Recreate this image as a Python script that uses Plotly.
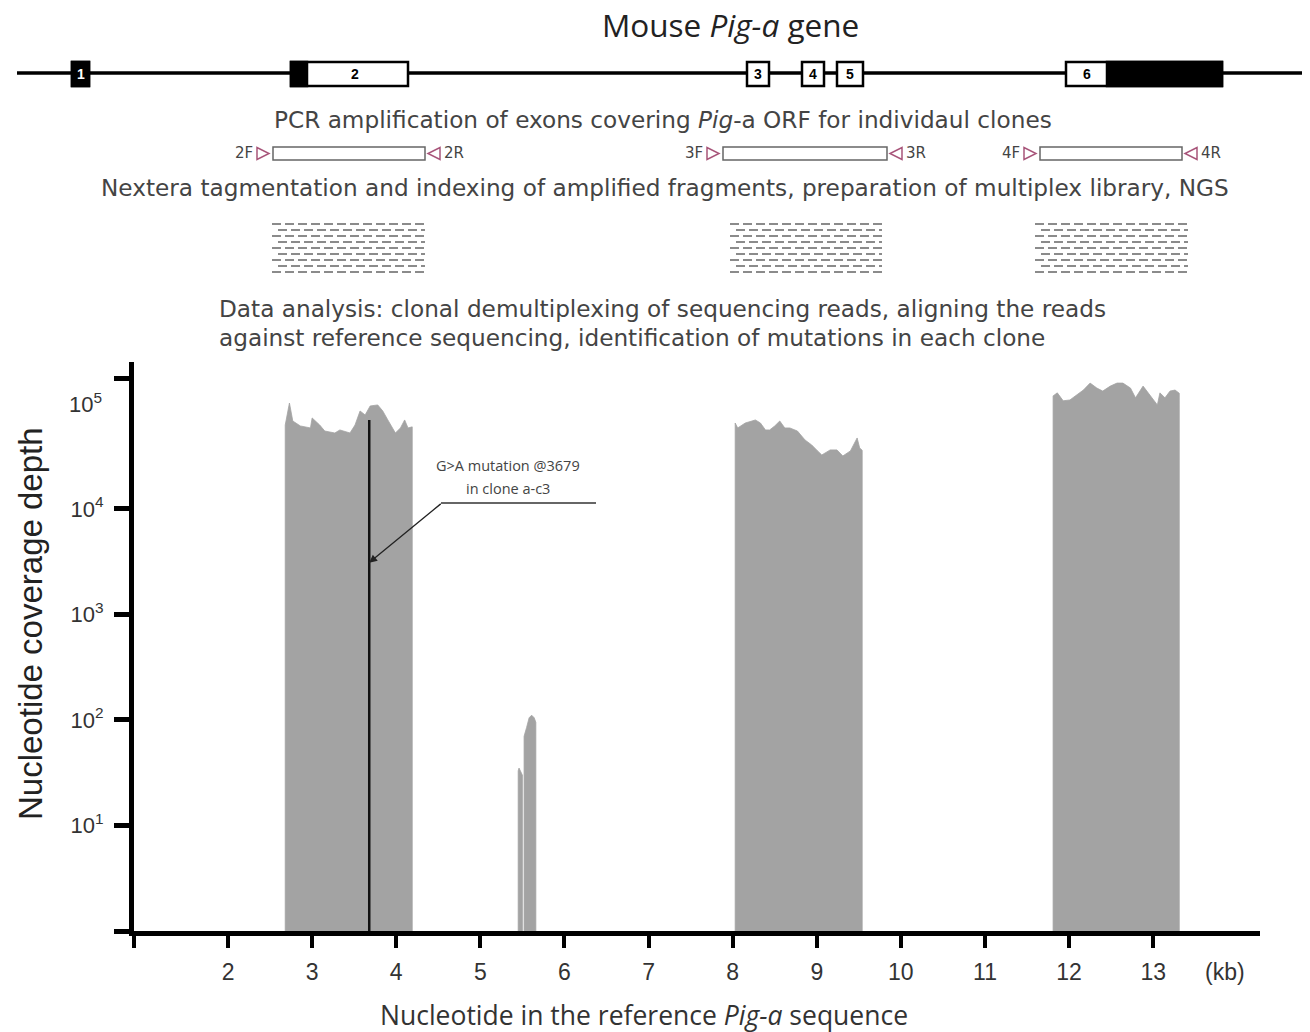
import math
import plotly.graph_objects as go

# ---------------- data ----------------
block1_kb = [2.68, 2.73, 2.77, 2.86, 2.98, 3.00, 3.09, 3.15, 3.27, 3.33, 3.45, 3.51,
             3.57, 3.63, 3.69, 3.78, 3.84, 3.90, 3.99, 4.05, 4.10, 4.14, 4.19]
block1_depth = [62500, 101000, 68200, 61200, 58600, 72900, 62500, 54800, 52500, 56100, 52500, 62500,
                84900, 77800, 94700, 96800, 84900, 69800, 52500, 58600, 69800, 58600, 60000]

peakA_kb = [5.45, 5.46, 5.50]
peakA_depth = [33, 35, 30]
peakB_kb = [5.52, 5.55, 5.58, 5.61, 5.64, 5.66]
peakB_depth = [70, 85, 105, 111, 105, 95]

block2_kb = [8.03, 8.06, 8.15, 8.23, 8.27, 8.33, 8.39, 8.44, 8.50, 8.56, 8.62, 8.68,
             8.77, 8.86, 8.94, 9.01, 9.06, 9.16, 9.24, 9.31, 9.40, 9.48, 9.51, 9.54]
block2_depth = [65300, 58600, 65300, 68200, 69800, 65300, 56100, 56100, 61200, 68200, 58600, 58600,
                54800, 45100, 40400, 35500, 32500, 36300, 36300, 31800, 35500, 47100, 37900, 36000]

block3_kb = [11.81, 11.86, 11.93, 12.01, 12.09, 12.17, 12.25, 12.33, 12.40, 12.49, 12.57,
             12.64, 12.73, 12.79, 12.88, 12.96, 13.05, 13.08, 13.14, 13.20, 13.26, 13.31]
block3_depth = [118000, 126000, 106000, 108000, 120000, 134000, 156000, 140000, 131000, 146000, 156000,
                156000, 140000, 113000, 146000, 120000, 96800, 126000, 113000, 131000, 134000, 125000]

mutation_kb = 3.679
mutation_depth = 69800
arrow_depth = 3100

x_tick_values = [2, 3, 4, 5, 6, 7, 8, 9, 10, 11, 12, 13]
y_tick_values = [10, 100, 1000, 10000]
y_tick_labels = ["10<sup>1</sup>", "10<sup>2</sup>", "10<sup>3</sup>", "10<sup>4</sup>"]

exon_labels = ["1", "2", "3", "4", "5", "6"]
amplicon_names = [("2F", "2R"), ("3F", "3R"), ("4F", "4R")]

# ---------------- layout geometry ----------------
W, H = 1310, 1032
L, R, T, B = 134, 50, 362, 101
PW, PH = W - L - R, H - T - B
X_RANGE = [0.882, 14.27]
Y_RANGE = [0, 5.393]
Y_TOP_TICK = 10 ** 5.24


def px(x):
    return (x - L) / PW


def py(y):
    return (H - B - y) / PH


GREY = "#a3a3a3"

fig = go.Figure()

for kb, d in [(block1_kb, block1_depth), (peakA_kb, peakA_depth), (peakB_kb, peakB_depth),
              (block2_kb, block2_depth), (block3_kb, block3_depth)]:
    fig.add_trace(go.Scatter(
        x=[kb[0]] + kb + [kb[-1]], y=[1] + d + [1],
        mode="lines", fill="toself", fillcolor=GREY,
        line=dict(color=GREY, width=0.8), hoverinfo="skip", showlegend=False))

fig.add_trace(go.Scatter(x=[mutation_kb, mutation_kb], y=[1, mutation_depth], mode="lines",
                         line=dict(color="#111111", width=2.5), showlegend=False, hoverinfo="skip"))

shapes = []
ann = []


def text_at(xp, yp, text, size, family, color="#444", xanchor="center", angle=0):
    ann.append(dict(x=px(xp), y=py(yp), xref="paper", yref="paper", showarrow=False,
                    xanchor=xanchor, yanchor="middle", text=text, textangle=angle,
                    font=dict(family=family, size=size, color=color)))


# arrow annotation for mutation
ann.append(dict(x=mutation_kb, y=math.log10(arrow_depth), xref="x", yref="y", ax=73, ay=-60,
                showarrow=True, arrowhead=2, arrowsize=1.2, arrowwidth=1.3, arrowcolor="#222", text=""))
shapes.append(dict(type="line", xref="paper", yref="paper", x0=px(441), x1=px(596), y0=py(503), y1=py(503),
                   line=dict(color="#333", width=1.3)))
text_at(508, 465, "G&gt;A mutation @3679", 14.5, "Open Sans", "#444")
text_at(508, 488, "in clone a-c3", 14.5, "Open Sans", "#444")

# 10^5 label (no tick in the reference)
ann.append(dict(x=px(104), y=5, xref="paper", yref="y", xanchor="right", yanchor="middle", showarrow=False,
                text="10<sup>5</sup>", font=dict(family="Liberation Sans", size=22, color="#333")))
text_at(1225, 972, "(kb)", 23, "Liberation Sans", "#333")
# axis titles
text_at(30, 624, "Nucleotide coverage depth", 33, "Liberation Sans", "#222", angle=-90)
text_at(644, 1015, "Nucleotide in the reference <i>Pig-a</i> sequence", 26.5, "Open Sans", "#333")

# ---------------- schematic ----------------
text_at(730, 25, "Mouse <i>Pig-a</i> gene", 31.5, "Open Sans", "#222")
GENE_Y = 73
shapes.append(dict(type="line", xref="paper", yref="paper", x0=px(17), x1=px(1302), y0=py(GENE_Y), y1=py(GENE_Y),
                   line=dict(color="black", width=3.5)))
exon_boxes = [(72, 89), (291, 408), (747, 769), (802, 824), (837, 863), (1066, 1222)]
black_parts = [(72, 89), (291, 307), None, None, None, (1107, 1222)]
label_x = [80.5, 355, 758, 813, 850, 1087]
for (x0, x1), bp, lab, lx in zip(exon_boxes, black_parts, exon_labels, label_x):
    shapes.append(dict(type="rect", xref="paper", yref="paper", x0=px(x0), x1=px(x1), y0=py(62), y1=py(86),
                       fillcolor="white", line=dict(color="black", width=2.5)))
    if bp:
        shapes.append(dict(type="rect", xref="paper", yref="paper", x0=px(bp[0]), x1=px(bp[1]), y0=py(62), y1=py(86),
                           fillcolor="black", line=dict(color="black", width=2.5)))
    text_at(lx, 74, "<b>%s</b>" % lab, 14, "Liberation Sans", "white" if lab == "1" else "black")

BODY = 23.2
text_at(663, 120, "PCR amplification of exons covering <i>Pig</i>-a ORF for individaul clones", BODY, "DejaVu Sans")
text_at(665, 187, "Nextera tagmentation and indexing of amplified fragments, preparation of multiplex library, NGS",
        BODY, "DejaVu Sans")
text_at(217, 309, "Data analysis: clonal demultiplexing of sequencing reads, aligning the reads", BODY,
        "DejaVu Sans", xanchor="left")
text_at(217, 337, "against reference sequencing, identification of mutations in each clone", BODY,
        "DejaVu Sans", xanchor="left")

# amplicons
AMP_Y = 153.5
amp_boxes = [(273, 425), (723, 887), (1040, 1182)]
for (f, r), (b0, b1) in zip(amplicon_names, amp_boxes):
    shapes.append(dict(type="rect", xref="paper", yref="paper", x0=px(b0), x1=px(b1), y0=py(147), y1=py(160),
                       fillcolor="white", line=dict(color="#666", width=1.5)))
    tri_r = "M %f,%f L %f,%f L %f,%f Z" % (px(b0 - 16), py(AMP_Y - 6), px(b0 - 16), py(AMP_Y + 6), px(b0 - 4), py(AMP_Y))
    tri_l = "M %f,%f L %f,%f L %f,%f Z" % (px(b1 + 15), py(AMP_Y - 6), px(b1 + 15), py(AMP_Y + 6), px(b1 + 3), py(AMP_Y))
    for p in (tri_r, tri_l):
        shapes.append(dict(type="path", xref="paper", yref="paper", path=p, line=dict(color="#a8557a", width=1.5)))
    text_at(b0 - 18, AMP_Y, f, 15, "DejaVu Sans", xanchor="right")
    text_at(b1 + 17, AMP_Y, r, 15, "DejaVu Sans", xanchor="left")

# read blocks (dashed fragments)
read_blocks = [(272, 425), (730, 882), (1035, 1188)]
for (r0, r1) in read_blocks:
    for i in range(9):
        yy = 224 + 6 * i
        off = 0 if i % 2 == 0 else 6
        shapes.append(dict(type="line", xref="paper", yref="paper", x0=px(r0 + off), x1=px(r1), y0=py(yy), y1=py(yy),
                           line=dict(color="#666", width=1.5, dash="9px,4px")))

fig.update_layout(
    width=W, height=H, margin=dict(l=L, r=R, t=T, b=B, autoexpand=False),
    paper_bgcolor="white", plot_bgcolor="white", showlegend=False,
    shapes=shapes, annotations=ann,
    xaxis=dict(range=X_RANGE, showgrid=False, zeroline=False, showline=True, linewidth=5, linecolor="black",
               ticks="outside", ticklen=12, tickwidth=4, tickcolor="black", ticklabelstandoff=4,
               tickvals=[X_RANGE[0]] + x_tick_values, ticktext=[""] + [str(v) for v in x_tick_values],
               tickfont=dict(family="Liberation Sans", size=23, color="#333")),
    yaxis=dict(type="log", range=Y_RANGE, showgrid=False, zeroline=False, showline=True, linewidth=5,
               linecolor="black", ticks="outside", ticklen=15, tickwidth=5, tickcolor="black", ticklabelstandoff=6,
               tickvals=[1] + y_tick_values + [Y_TOP_TICK], ticktext=[""] + y_tick_labels + [""],
               tickfont=dict(family="Liberation Sans", size=22, color="#333")),
)

fig.write_html("out.html")
